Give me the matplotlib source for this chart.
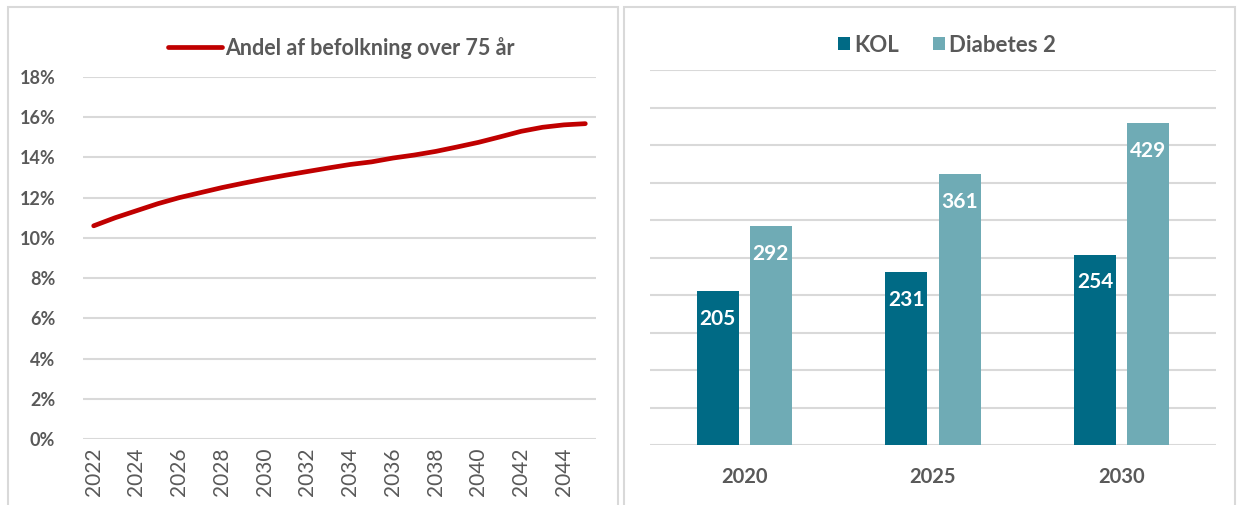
import numpy as np
import matplotlib
matplotlib.use("Agg")
from matplotlib import pyplot as plt
from matplotlib.patches import Rectangle

plt.rcParams['font.family'] = ['Lato', 'DejaVu Sans']

# left chart: share of population over 75
years = list(range(2022, 2046))
share_75 = [10.6, 11.0, 11.35, 11.7, 12.0, 12.25, 12.5, 12.72, 12.93, 13.12,
            13.3, 13.48, 13.65, 13.78, 13.97, 14.12, 14.3, 14.52, 14.75, 15.02,
            15.3, 15.5, 15.62, 15.68]
line_label = 'Andel af befolkning over 75 år'

# right chart: patients
groups = ['2020', '2025', '2030']
kol = [205, 231, 254]
diabetes2 = [292, 361, 429]
series_names = ['KOL', 'Diabetes 2']

GRAY = '#595959'
GRID = '#d9d9d9'
RED = '#C00000'
DARK = '#006A85'
LIGHT = '#6FABB5'

fig = plt.figure(figsize=(12.38, 5.05), dpi=100)
W, H = 1238, 505

# panel frames
for x0, x1 in [(8, 618), (624, 1235)]:
    fig.patches.append(Rectangle((x0 / W, -0.05), (x1 - x0) / W, 1.05 - 7 / H,
                                 transform=fig.transFigure, fill=False,
                                 edgecolor=GRID, linewidth=1.5))

# ---- left: line chart
ax1 = fig.add_axes([83 / W, 66 / H, 513 / W, 362 / H])
ax1.plot(years, np.array(share_75) / 100, color=RED, linewidth=3.4,
         solid_capstyle='round', label=line_label)
ax1.set_xlim(2021.5, 2045.5)
ax1.set_ylim(0, 0.18)
ax1.set_yticks(np.arange(0, 0.181, 0.02))
ax1.set_yticklabels(['%d%%' % v for v in range(0, 19, 2)])
ax1.set_xticks(years[::2])
ax1.set_xticklabels([str(y) for y in years[::2]], rotation=90)
ax1.grid(axis='y', color=GRID, linewidth=1.5)
ax1.set_axisbelow(True)
for s in ax1.spines.values():
    s.set_visible(False)
ax1.tick_params(axis='both', length=0, colors=GRAY)
ax1.tick_params(axis='y', labelsize=13, pad=20)
ax1.tick_params(axis='x', labelsize=15, pad=6)
for t in ax1.get_yticklabels():
    t.set_fontweight('bold')
leg1 = ax1.legend(loc='center', bbox_to_anchor=(341 / W, 1 - 48 / H),
                  bbox_transform=fig.transFigure, frameon=False,
                  handlelength=2.5, handletextpad=0.15,
                  prop={'weight': 'bold', 'size': 15.5})
for t in leg1.get_texts():
    t.set_color(GRAY)

# ---- right: grouped bars
ax2 = fig.add_axes([650 / W, 60 / H, 566 / W, 375 / H])
x = np.arange(len(groups))
w = 0.222
b1 = ax2.bar(x - 0.141, kol, w, color=DARK, label=series_names[0])
b2 = ax2.bar(x + 0.141, diabetes2, w, color=LIGHT, label=series_names[1])
for bars in (b1, b2):
    for r in bars:
        ax2.annotate(str(int(r.get_height())),
                     (r.get_x() + r.get_width() / 2, r.get_height()),
                     xytext=(0, -28), textcoords='offset pixels',
                     ha='center', va='center', color='white',
                     fontsize=15, fontweight='bold')
ax2.set_xlim(-0.5, 2.5)
ax2.set_ylim(0, 500)
ax2.set_yticks(np.arange(0, 501, 50))
ax2.set_yticklabels([])
ax2.set_xticks(x)
ax2.set_xticklabels(groups, fontsize=14.5, fontweight='bold', color=GRAY)
ax2.grid(axis='y', color=GRID, linewidth=1.5)
ax2.set_axisbelow(True)
for s in ax2.spines.values():
    s.set_visible(False)
ax2.tick_params(axis='both', length=0)
ax2.tick_params(axis='x', pad=16)
leg2 = ax2.legend(loc='center', bbox_to_anchor=(947 / W, 1 - 45 / H),
                  bbox_transform=fig.transFigure, frameon=False, ncol=2,
                  handlelength=0.55, handleheight=0.55, handletextpad=0.2,
                  columnspacing=1.5, prop={'weight': 'bold', 'size': 16})
for t in leg2.get_texts():
    t.set_color(GRAY)

fig.savefig('out.png', dpi=100)
